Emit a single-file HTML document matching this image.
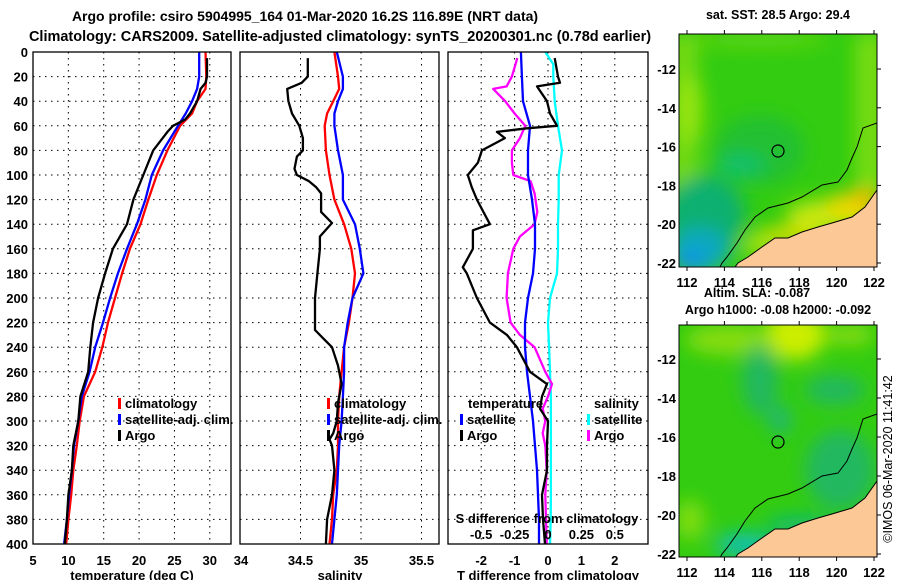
<!DOCTYPE html>
<html><head><meta charset="utf-8">
<style>
html,body{margin:0;padding:0;background:#fff;}
svg{display:block;font-family:"Liberation Sans",sans-serif;}
.b{font-weight:bold;}
</style></head>
<body>
<svg id="chart" width="900" height="580" viewBox="0 0 900 580" xmlns="http://www.w3.org/2000/svg">
<defs>
<filter id="blur8" x="-30%" y="-30%" width="160%" height="160%"><feGaussianBlur stdDeviation="9"/></filter>
<clipPath id="clipM1"><rect x="679" y="34" width="198" height="233"/></clipPath>
<clipPath id="clipM2"><rect x="679" y="325" width="198" height="232"/></clipPath>
<clipPath id="clipP1"><rect x="33" y="52" width="198" height="492"/></clipPath>
<clipPath id="clipP2"><rect x="240" y="52" width="199" height="492"/></clipPath>
<clipPath id="clipP3"><rect x="448" y="52" width="200" height="492"/></clipPath>
</defs>
<text class="b" x="305" y="21" font-size="14" text-anchor="middle">Argo profile: csiro 5904995_164 01-Mar-2020 16.2S 116.89E (NRT data)</text>
<text class="b" x="340" y="41" font-size="14.5" text-anchor="middle">Climatology: CARS2009. Satellite-adjusted climatology: synTS_20200301.nc (0.78d earlier)</text>
<g id="grids"></g>
<g id="series"></g>
<g id="frames"></g>
<g id="labels"></g>

<!-- Map 1: SST -->
<g>
<text class="b" x="778" y="19" font-size="12.5" text-anchor="middle">sat. SST: 28.5 Argo: 29.4</text>
<g clip-path="url(#clipM1)">
<rect x="679" y="34" width="198" height="233" fill="#33cc11"/>
<g filter="url(#blur8)">
<rect x="670" y="34" width="28" height="160" fill="#8fe010" opacity="0.7"/>
<ellipse cx="690" cy="110" rx="14" ry="35" fill="#a8e808" opacity="0.7"/>
<rect x="855" y="34" width="30" height="160" fill="#88e010" opacity="0.8"/>
<ellipse cx="760" cy="40" rx="70" ry="8" fill="#7ada10" opacity="0.6"/>
<ellipse cx="760" cy="150" rx="45" ry="35" fill="#20c030"/>
<ellipse cx="740" cy="165" rx="25" ry="10" fill="#10c070"/>
<ellipse cx="705" cy="215" rx="40" ry="40" fill="#10b070"/>
<ellipse cx="700" cy="250" rx="30" ry="22" fill="#10a8c0"/>
<ellipse cx="690" cy="262" rx="15" ry="10" fill="#1090f0"/>
<ellipse cx="830" cy="215" rx="45" ry="15" fill="#c8e808"/>
<ellipse cx="850" cy="205" rx="25" ry="12" fill="#f0d800"/>
<ellipse cx="865" cy="198" rx="12" ry="10" fill="#f8b800"/>
<ellipse cx="790" cy="235" rx="35" ry="8" fill="#e8e000"/>
<ellipse cx="760" cy="245" rx="18" ry="12" fill="#a0e008"/>
</g>
<g>
<polygon id="land1" points="877,190 865,207 852,217 832,223 818,227 802,232 788,238 775,238 762,247 748,257 738,263 735,267 877,267" fill="#fcc896" stroke="#000" stroke-width="1"/>
</g>
<polyline points="877,123 863,128 857,147 852,158 847,170 838,182 822,185 802,197 788,203 768,208 755,217 745,230 737,243 727,257 722,263 720,267" fill="none" stroke="#000" stroke-width="1"/>
<circle cx="778" cy="151" r="6" fill="none" stroke="#000" stroke-width="1.2"/>
</g>
<rect x="679" y="34" width="198" height="233" fill="none" stroke="#000" stroke-width="1"/>
<g id="m1ticks"></g>
</g>

<!-- Map 2: SLA -->
<g>
<text class="b" x="757" y="297" font-size="12.5" text-anchor="middle">Altim. SLA: -0.087</text>
<text class="b" x="778" y="314" font-size="12.5" text-anchor="middle">Argo h1000: -0.08 h2000: -0.092</text>
<g clip-path="url(#clipM2)">
<rect x="679" y="325" width="198" height="232" fill="#33cc11"/>
<g filter="url(#blur8)">
<ellipse cx="795" cy="335" rx="30" ry="25" fill="#ccee00"/>
<ellipse cx="730" cy="340" rx="45" ry="15" fill="#88dd10"/>
<ellipse cx="850" cy="335" rx="25" ry="10" fill="#88dd10"/>
<ellipse cx="760" cy="380" rx="18" ry="35" fill="#20b860"/>
<ellipse cx="780" cy="420" rx="12" ry="15" fill="#20b870"/>
<ellipse cx="835" cy="390" rx="30" ry="15" fill="#20b860"/>
<ellipse cx="840" cy="470" rx="35" ry="40" fill="#20b860"/>
<ellipse cx="690" cy="520" rx="15" ry="20" fill="#80dd10"/>
<ellipse cx="745" cy="545" rx="30" ry="12" fill="#10c0b0"/>
<ellipse cx="800" cy="525" rx="35" ry="8" fill="#10b880"/>
</g>
<g transform="translate(0,291)">
<polygon points="877,190 865,207 852,217 832,223 818,227 802,232 788,238 775,238 762,247 748,257 738,263 735,267 877,267" fill="#fcc896" stroke="#000" stroke-width="1"/>
<polyline points="877,123 863,128 857,147 852,158 847,170 838,182 822,185 802,197 788,203 768,208 755,217 745,230 737,243 727,257 722,263 720,267" fill="none" stroke="#000" stroke-width="1"/>
</g>
<circle cx="778" cy="442" r="6" fill="none" stroke="#000" stroke-width="1.2"/>
</g>
<rect x="679" y="325" width="198" height="232" fill="none" stroke="#000" stroke-width="1"/>
<g id="m2ticks"></g>
</g>
<text x="0" y="0" font-size="12.5" text-anchor="middle" transform="translate(892,459) rotate(-90)">©IMOS 06-Mar-2020 11:41:42</text>
</svg>
<script>
// ---------- data ----------
const tickDepths = [0,20,40,60,80,100,120,140,160,180,200,220,240,260,280,300,320,340,360,380,400];
const tempTicks = [5,10,15,20,25,30];
const salTicks = ["34","34.5","35","35.5"];
const diffTTicks = [-2,-1,0,1,2];
const diffSTicks = ["-0.5","-0.25","0","0.25","0.5"];

const climDepth = [0,20,30,40,50,60,80,100,120,140,160,180,200,220,240,260,280,300,320,340,360,380,400];
const climTemp = [29.4,29.5,29.4,28.2,27.5,25.8,24.0,22.5,21.3,20.2,18.7,17.6,16.6,15.6,14.8,13.8,12.2,11.6,11.2,10.7,10.4,10.0,9.7];
const satTemp  = [28.5,28.5,28.2,27.5,26.6,25.5,23.4,21.8,20.9,19.7,18.3,17.0,15.9,14.9,13.8,13.0,11.9,11.4,10.8,10.5,10.1,9.8,9.4];
const climSal  = [34.78,34.81,34.82,34.77,34.72,34.70,34.71,34.74,34.78,34.86,34.92,34.95,34.93,34.90,34.86,34.84,34.82,34.81,34.81,34.80,34.77,34.76,34.74];
const satSal   = [34.80,34.85,34.85,34.81,34.78,34.78,34.81,34.85,34.85,34.95,34.99,35.02,34.93,34.89,34.86,34.86,34.85,34.84,34.82,34.81,34.80,34.78,34.76];

const argoDepth = [5,20,25,30,40,50,55,60,65,80,100,120,140,160,180,200,220,240,260,280,300,320,340,360,380,400];
const argoTemp  = [29.6,29.6,29.4,28.7,28.2,27.2,26.5,24.8,24.0,22.0,20.6,19.2,18.3,16.3,15.2,14.2,13.5,13.1,12.8,11.7,11.4,10.7,10.5,10.0,9.8,9.5];
const argoSalDepth = [5,20,25,30,40,50,60,70,80,85,95,100,105,110,115,120,130,139,150,160,180,200,220,226,232,240,255,260,270,285,300,310,315,320,340,360,380,400];
const argoSal = [34.56,34.56,34.51,34.39,34.40,34.43,34.49,34.52,34.52,34.47,34.45,34.47,34.57,34.63,34.67,34.67,34.67,34.76,34.66,34.66,34.64,34.62,34.62,34.62,34.68,34.76,34.81,34.82,34.84,34.81,34.80,34.77,34.74,34.76,34.78,34.76,34.72,34.71];

const satDTDepth = [0,20,40,60,80,100,120,140,160,180,200,220,240,260,280,300,320,340,360,380,400];
const satDT = [-0.81,-0.78,-0.75,-0.54,-0.60,-0.60,-0.48,-0.39,-0.39,-0.45,-0.60,-0.69,-0.69,-0.63,-0.54,-0.45,-0.39,-0.33,-0.30,-0.27,-0.27];
const argoDTDepth = [5,20,25,28,40,50,60,62,65,70,80,90,100,110,120,140,145,160,175,180,200,220,230,240,260,270,280,290,300,320,340,360,380,400];
const argoDT = [0.20,0.30,0.36,-0.33,-0.03,0.06,0.27,-0.63,-1.53,-1.29,-1.98,-2.10,-2.40,-2.28,-2.13,-1.74,-2.25,-2.25,-2.55,-2.43,-2.13,-1.74,-1.23,-0.93,-0.54,-0.03,-0.18,-0.24,0.00,-0.03,-0.03,-0.18,-0.15,-0.09];
const satDSDepth = [0,10,20,40,60,80,100,120,140,160,180,200,220,240,260,280,300,320,340,360,380,400];
const satDS = [-0.02,0.04,0.04,0.05,0.075,0.105,0.08,0.08,0.075,0.075,0.067,0.015,0.0,0.008,0.015,0.022,0.022,0.022,0.022,0.022,0.02,0.015];
const argoDSDepth = [5,20,28,30,40,50,60,70,80,90,100,105,115,130,140,150,160,180,200,220,230,240,260,270,280,290,300,310,320,340,360,380,400];
const argoDS = [-0.23,-0.27,-0.31,-0.41,-0.32,-0.25,-0.17,-0.21,-0.27,-0.27,-0.26,-0.13,-0.10,-0.08,-0.10,-0.21,-0.26,-0.30,-0.31,-0.28,-0.21,-0.10,-0.02,0.03,0.0,-0.04,-0.02,-0.04,-0.02,-0.01,-0.02,-0.015,-0.01];

const lonTicks = [112,114,116,118,120,122];
const latTicks = [-12,-14,-16,-18,-20,-22];

// ---------- scales ----------
const NS = "http://www.w3.org/2000/svg";
const yD = d => 52 + d*1.23;
const xT = t => 33 + (t-5)*(198/28);
const xS = s => 240 + (s-34)*121;
const xDT = v => 548 + v*33.4;
const xDS = v => 548 + v*133.6;
const xLon = l => 687 + (l-112)*18.7;
const yLat1 = l => 69 + (-12-l)*19.4;
const yLat2 = l => 359 + (-12-l)*19.5;

function mk(tag, attrs, parent){
  const e = document.createElementNS(NS, tag);
  for (const k in attrs) e.setAttribute(k, attrs[k]);
  parent.appendChild(e);
  return e;
}
const G = document.getElementById('grids');
const S = document.getElementById('series');
const F = document.getElementById('frames');
const L = document.getElementById('labels');
const panels = [[33,231],[240,439],[448,648]];
const dot = {stroke:"#000","stroke-width":1,"stroke-dasharray":"1.5,4.5"};

panels.forEach(function(p){
  tickDepths.forEach(function(d){
    if(d===0||d===400) return;
    const ln = mk('line', Object.assign({x1:p[0],x2:p[1],y1:yD(d),y2:yD(d)},dot), G);
    
    
  });
});
tickDepths.forEach(function(d){
  const t = mk('text',{x:28,y:yD(d)+5,"font-size":13,"text-anchor":"end","class":"b"},L);
  t.textContent = d;
  
  
});
tempTicks.forEach(function(v){
  if(v>5){
    const ln = mk('line',Object.assign({x1:xT(v),x2:xT(v),y1:52,y2:544},dot),G);
    
    
  }
  const t = mk('text',{x:xT(v),y:565,"font-size":13,"text-anchor":"middle","class":"b"},L);
  t.textContent = v;
  
  
});
salTicks.forEach(function(v){
  const s = parseFloat(v);
  if(s>34){
    const ln = mk('line',Object.assign({x1:xS(s),x2:xS(s),y1:52,y2:544},dot),G);
    
    
  }
  const t = mk('text',{x:xS(s)+ (s===34?1:0),y:565,"font-size":13,"text-anchor":"middle","class":"b"},L);
  t.textContent = v;
  
  
});
diffTTicks.forEach(function(v){
  const ln = mk('line',Object.assign({x1:xDT(v),x2:xDT(v),y1:52,y2:544},dot),G);
  
  
  const t = mk('text',{x:xDT(v),y:565,"font-size":13,"text-anchor":"middle","class":"b"},L);
  t.textContent = v;
  
  
});
diffSTicks.forEach(function(v){
  const t = mk('text',{x:xDS(parseFloat(v)),y:539,"font-size":13,"text-anchor":"middle","class":"b"},L);
  t.textContent = v;
  
  
});
[["temperature (deg C)",132,"x-axis-title-temperature"],["salinity",340,"x-axis-title-salinity"],["T difference from climatology",548,"x-axis-title-t-diff"]].forEach(function(a){
  const t = mk('text',{x:a[1],y:580,"font-size":13,"text-anchor":"middle","class":"b"},L);
  t.textContent = a[0];
  
  
});
const sTitle = mk('text',{x:547,y:523,"font-size":13,"text-anchor":"middle","class":"b"},L);
sTitle.textContent = "S difference from climatology";



function line(xs, ds, xf, color, clip, name, w){
  const pts = xs.map((v,i)=> xf(v).toFixed(1)+","+yD(ds[i]).toFixed(1)).join(" ");
  const pl = mk('polyline',{points:pts,fill:"none",stroke:color,"stroke-width":w||2.3,"stroke-linejoin":"round","clip-path":"url(#"+clip+")"},S);
  
  
}
line(climTemp, climDepth, xT, "#ff0000", "clipP1", "climatology-temperature-line");
line(satTemp, climDepth, xT, "#0000ff", "clipP1", "satellite-temperature-line");
line(argoTemp, argoDepth, xT, "#000000", "clipP1", "argo-temperature-line");
line(climSal, climDepth, xS, "#ff0000", "clipP2", "climatology-salinity-line");
line(satSal, climDepth, xS, "#0000ff", "clipP2", "satellite-salinity-line");
line(argoSal, argoSalDepth, xS, "#000000", "clipP2", "argo-salinity-line");
line(satDS, satDSDepth, xDS, "#00ffff", "clipP3", "satellite-s-diff-line");
line(argoDS, argoDSDepth, xDS, "#ff00ff", "clipP3", "argo-s-diff-line");
line(satDT, satDTDepth, xDT, "#0000ff", "clipP3", "satellite-t-diff-line");
line(argoDT, argoDTDepth, xDT, "#000000", "clipP3", "argo-t-diff-line");

panels.forEach(function(p,i){
  const r = mk('rect',{x:p[0],y:52,width:p[1]-p[0],height:492,fill:"none",stroke:"#000","stroke-width":1.3},F);
  
  
});

function legend(x, y, color, label, name){
  const b = mk('rect',{x:x,y:y-10,width:3,height:11,fill:color},L);
  
  
  const t = mk('text',{x:x+7,y:y,"font-size":13,"class":"b"},L);
  t.textContent = label;
  
  
}
legend(118,408,"#ff0000","climatology","legend-temp-climatology");
legend(118,424,"#0000ff","satellite-adj. clim.","legend-temp-satellite");
legend(118,440,"#000000","Argo","legend-temp-argo");
legend(327,408,"#ff0000","climatology","legend-sal-climatology");
legend(327,424,"#0000ff","satellite-adj. clim.","legend-sal-satellite");
legend(327,440,"#000000","Argo","legend-sal-argo");
const lt = mk('text',{x:468,y:408,"font-size":13,"class":"b"},L);
lt.textContent="temperature";


const ls = mk('text',{x:594,y:408,"font-size":13,"class":"b"},L);
ls.textContent="salinity";


legend(460,424,"#0000ff","satellite","legend-diff-t-satellite");
legend(460,440,"#000000","Argo","legend-diff-t-argo");
legend(587,424,"#00ffff","satellite","legend-diff-s-satellite");
legend(587,440,"#ff00ff","Argo","legend-diff-s-argo");

function mapTicks(gid, top, bottom, yLat, labY){
  const g = document.getElementById(gid);
  lonTicks.forEach(function(l){
    mk('line',{x1:xLon(l),x2:xLon(l),y1:top-4,y2:top,stroke:"#000"},g);
    mk('line',{x1:xLon(l),x2:xLon(l),y1:bottom,y2:bottom+4,stroke:"#000"},g);
    const t = mk('text',{x:xLon(l),y:labY,"font-size":13,"text-anchor":"middle","class":"b"},g);
    t.textContent = l;
    
    
  });
  latTicks.forEach(function(l){
    mk('line',{x1:877,x2:881,y1:yLat(l),y2:yLat(l),stroke:"#000"},g);
    const t = mk('text',{x:676,y:yLat(l)+5,"font-size":13,"text-anchor":"end","class":"b"},g);
    t.textContent = l;
    
    
  });
}
mapTicks('m1ticks',34,267,yLat1,287);
mapTicks('m2ticks',325,557,yLat2,577);
</script>
</body></html>
